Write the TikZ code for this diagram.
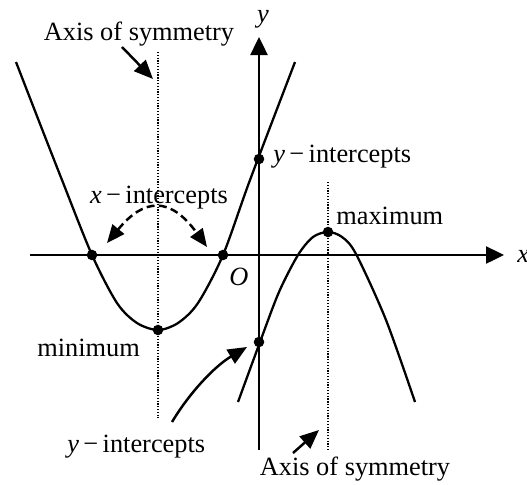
\documentclass[tikz,border=0pt]{standalone}
\usepackage{fontspec}
\setmainfont{Liberation Serif}
\usetikzlibrary{arrows.meta}
\tikzset{
  curve/.style={line width=1.3pt},
  axisarrow/.style={line width=1.4pt,-{Triangle[length=0.36cm,width=0.34cm]}},
  pointer/.style={line width=1.4pt,-{Triangle[length=0.38cm,width=0.32cm]}},
  twoway/.style={line width=1.4pt,dash pattern=on 4.5pt off 2.5pt,
    {Triangle[length=0.36cm,width=0.3cm]}-{Triangle[length=0.36cm,width=0.3cm]}},
  symaxis/.style={line width=1pt,dash pattern=on 0.7pt off 0.9pt},
  pt/.style={circle,fill,inner sep=0pt,minimum size=6pt},
  lbl/.style={inner sep=0pt,font=\fontsize{15}{18}\selectfont}
}
\begin{document}
\begin{tikzpicture}[x=0.02cm,y=-0.02cm]
  \useasboundingbox (0,0) rectangle (527,484);
  \draw[axisarrow] (30,255) -- (504,255);
  \draw[axisarrow] (259,450) -- (259,37);
  \node[lbl,anchor=base west] (xlab) at (517,262) {\textit{x}};
  \node[lbl,anchor=base] (ylab) at (263,22) {\textit{y}};
  \node[lbl,anchor=base] (olab) at (239,285) {\textit{O}};

  \draw[symaxis] (158,52) -- (158,418);
  \draw[symaxis] (328,182) -- (328,450);
  \draw[curve] plot[smooth] coordinates {(16,62) (38.5,120) (62,180) (92,255) (117,303)
    (137,323) (158,330) (178,323) (198,303) (223,255) (250,180) (295,62)};
  \draw[curve] plot[smooth] coordinates {(238,402) (260,342) (279,292) (298,255)
    (313,237) (328,232) (342,237) (356,254) (386,320) (415,402)};

  \node[pt] (xintA) at (92,255) {};
  \node[pt] (xintB) at (223,255) {};
  \node[pt] (minpt) at (158,330) {};
  \node[pt] (yintA) at (259,159) {};
  \node[pt] (maxpt) at (328,232) {};
  \node[pt] (yintB) at (259,342) {};

  \node[lbl,anchor=base] (symA) at (139,40) {Axis of symmetry};
  \node[lbl,anchor=base west] (yintAlab) at (273,162) {\textit{y}\,−\,intercepts};
  \node[lbl,anchor=base west] (maxlab) at (336,224) {maximum};
  \node[lbl,anchor=base] (xintlab) at (159,203) {\textit{x}\,−\,intercepts};
  \node[lbl,anchor=base west] (minlab) at (37,356) {minimum};
  \node[lbl,anchor=base west] (yintBlab) at (67,452) {\textit{y}\,−\,intercepts};
  \node[lbl,anchor=base] (symB) at (355,475) {Axis of symmetry};

  \coordinate (symAfrom) at (122,47);
  \coordinate (symAto) at (153,79);
  \coordinate (xintL) at (107,243);
  \coordinate (xintR) at (207,247);
  \coordinate (yintBfrom) at (172,422);
  \coordinate (yintBto) at (247,347);
  \coordinate (symBfrom) at (293,453);
  \coordinate (symBto) at (319,430);
  \draw[pointer] (symAfrom) -- (symAto);
  \draw[twoway] (xintL) .. controls (144,198) and (170,196) .. (xintR);
  \draw[pointer] (yintBfrom) .. controls (190,392) and (215,366) .. (yintBto);
  \draw[pointer] (symBfrom) -- (symBto);
\end{tikzpicture}
\end{document}
